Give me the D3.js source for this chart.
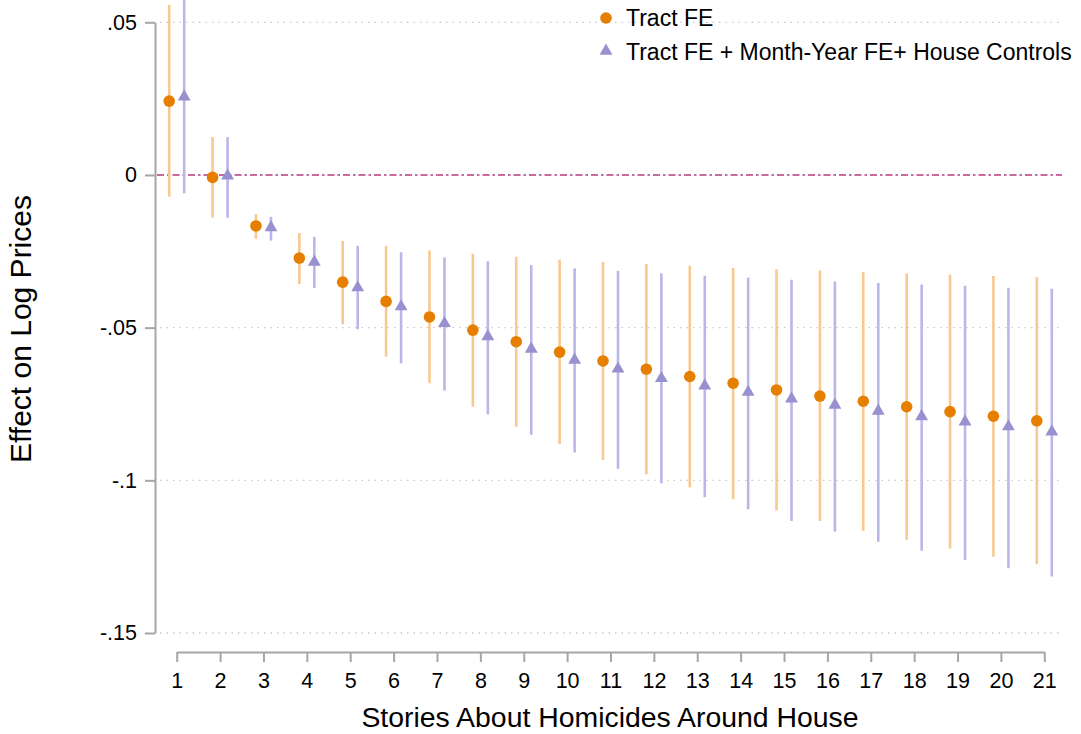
<!DOCTYPE html>
<html>
<head>
<meta charset="utf-8">
<script src="https://cdn.jsdelivr.net/npm/d3@7"></script>
<style>
  body { margin: 0; background: #fff; }
  svg { font-family: "Liberation Sans", Arial, sans-serif; }
</style>
</head>
<body>
<div id="chart"></div>
<script>
// Data
const stories = d3.range(1, 22);
const yTicks = [0.05, 0, -0.05, -0.1, -0.15];
const yTickLabels = [".05", "0", "-.05", "-.1", "-.15"];

// Tract FE
const tractFE = [0.0242, -0.0008, -0.0167, -0.0272, -0.0351, -0.0414, -0.0465, -0.0508, -0.0546, -0.0580, -0.0609, -0.0636, -0.0660, -0.0682, -0.0704, -0.0724, -0.0741, -0.0759, -0.0775, -0.0790, -0.0805];
const tractLo = [-0.0071, -0.0140, -0.0209, -0.0357, -0.0489, -0.0595, -0.0682, -0.0759, -0.0824, -0.0881, -0.0933, -0.0980, -0.1023, -0.1062, -0.1099, -0.1133, -0.1165, -0.1195, -0.1223, -0.1250, -0.1275];
const tractHi = [0.0557, 0.0124, -0.0128, -0.0190, -0.0216, -0.0232, -0.0247, -0.0258, -0.0268, -0.0277, -0.0285, -0.0291, -0.0297, -0.0304, -0.0309, -0.0313, -0.0318, -0.0323, -0.0326, -0.0331, -0.0334];

// Tract FE + Month-Year FE + House Controls
const fullFE = [0.0256, -0.0003, -0.0172, -0.0285, -0.0369, -0.0431, -0.0486, -0.0529, -0.0570, -0.0606, -0.0635, -0.0666, -0.0690, -0.0711, -0.0733, -0.0753, -0.0773, -0.0791, -0.0808, -0.0824, -0.0841];
const fullLo = [-0.0060, -0.0140, -0.0215, -0.0370, -0.0505, -0.0617, -0.0706, -0.0784, -0.0851, -0.0909, -0.0962, -0.1010, -0.1055, -0.1095, -0.1133, -0.1168, -0.1201, -0.1231, -0.1261, -0.1288, -0.1315];
const fullHi = [0.0575, 0.0124, -0.0137, -0.0203, -0.0232, -0.0253, -0.0270, -0.0283, -0.0295, -0.0306, -0.0314, -0.0322, -0.0330, -0.0336, -0.0343, -0.0349, -0.0354, -0.0359, -0.0363, -0.0369, -0.0373];

const seriesNames = ["Tract FE", "Tract FE + Month-Year FE+ House Controls"];

const width = 1081, height = 734;
const orange = "#e67e00", orangeCI = "#f7c990";
const purple = "#9891cf", purpleCI = "#bab6ea";
const axisColor = "#a6a6a6";

const svg = d3.select("#chart").append("svg")
  .attr("width", width)
  .attr("height", height);

// Scales
const x = d3.scaleLinear().domain([1, 21]).range([176.7, 1044.3]);
const y = d3.scaleLinear().domain([-0.15, 0.05]).range([633, 22.3]);
const offset = 7.5;

// Gridlines
svg.append("g")
  .selectAll("line")
  .data(yTicks.filter(d => d !== 0))
  .enter()
  .append("line")
  .attr("x1", 160).attr("x2", 1062)
  .attr("y1", d => y(d)).attr("y2", d => y(d))
  .style("stroke", "#c8c8c8")
  .style("stroke-width", 1.3)
  .style("stroke-dasharray", "1.5,5");

// Zero line
svg.append("line")
  .attr("x1", 157).attr("x2", 1062)
  .attr("y1", y(0)).attr("y2", y(0))
  .style("stroke", "#c96a9e")
  .style("stroke-width", 1.8)
  .style("stroke-dasharray", "7,3,2.5,3");

// Axes
const yAxis = d3.axisLeft(y)
  .tickValues(yTicks)
  .tickSize(10)
  .tickSizeOuter(0)
  .tickPadding(8)
  .tickFormat((d, i) => yTickLabels[i]);

const gy = svg.append("g")
  .attr("transform", "translate(155,0)")
  .call(yAxis);

const xAxis = d3.axisBottom(x)
  .tickValues(stories)
  .tickSize(10)
  .tickSizeOuter(0)
  .tickPadding(11)
  .tickFormat(d3.format("d"));

const gx = svg.append("g")
  .attr("transform", "translate(0,652)")
  .call(xAxis);

[gx, gy].forEach(g => {
  g.select(".domain").style("stroke", axisColor).style("stroke-width", 2);
  g.selectAll(".tick line").style("stroke", axisColor).style("stroke-width", 2);
  g.selectAll(".tick text")
    .style("font-family", "Liberation Sans, Arial, sans-serif")
    .style("font-size", "21.5px")
    .style("fill", "#000");
});

// Axis titles
svg.append("text")
  .attr("x", 610)
  .attr("y", 727)
  .style("text-anchor", "middle")
  .style("font-size", "28.4px")
  .style("fill", "#000")
  .text("Stories About Homicides Around House");

svg.append("text")
  .attr("transform", "translate(31,329) rotate(-90)")
  .style("text-anchor", "middle")
  .style("font-size", "30px")
  .style("fill", "#000")
  .text("Effect on Log Prices");

// Confidence intervals
svg.append("g")
  .selectAll("line")
  .data(stories)
  .enter()
  .append("line")
  .attr("x1", (d, i) => x(d) - offset).attr("x2", (d, i) => x(d) - offset)
  .attr("y1", (d, i) => y(tractHi[i])).attr("y2", (d, i) => y(tractLo[i]))
  .style("stroke", orangeCI)
  .style("stroke-width", 2.6);

svg.append("g")
  .selectAll("line")
  .data(stories)
  .enter()
  .append("line")
  .attr("x1", (d, i) => x(d) + offset).attr("x2", (d, i) => x(d) + offset)
  .attr("y1", (d, i) => y(fullHi[i])).attr("y2", (d, i) => y(fullLo[i]))
  .style("stroke", purpleCI)
  .style("stroke-width", 2.6);

// Point estimates
svg.append("g")
  .selectAll("circle")
  .data(stories)
  .enter()
  .append("circle")
  .attr("cx", (d, i) => x(d) - offset)
  .attr("cy", (d, i) => y(tractFE[i]))
  .attr("r", 5.8)
  .style("fill", orange);

const tri = d3.symbol().type(d3.symbolTriangle).size(72);

svg.append("g")
  .selectAll("path")
  .data(stories)
  .enter()
  .append("path")
  .attr("d", tri)
  .attr("transform", (d, i) => `translate(${x(d) + offset},${y(fullFE[i])})`)
  .style("fill", purple);

// Legend
const legend = svg.append("g");
legend.append("circle")
  .attr("cx", 606).attr("cy", 18).attr("r", 5.8)
  .style("fill", orange);
legend.append("path")
  .attr("d", tri)
  .attr("transform", "translate(606,51)")
  .style("fill", purple);
legend.selectAll("text")
  .data(seriesNames)
  .enter()
  .append("text")
  .attr("x", 626)
  .attr("y", (d, i) => 26 + i * 34)
  .style("font-size", "23px")
  .style("fill", "#000")
  .text(d => d);
</script>
</body>
</html>
